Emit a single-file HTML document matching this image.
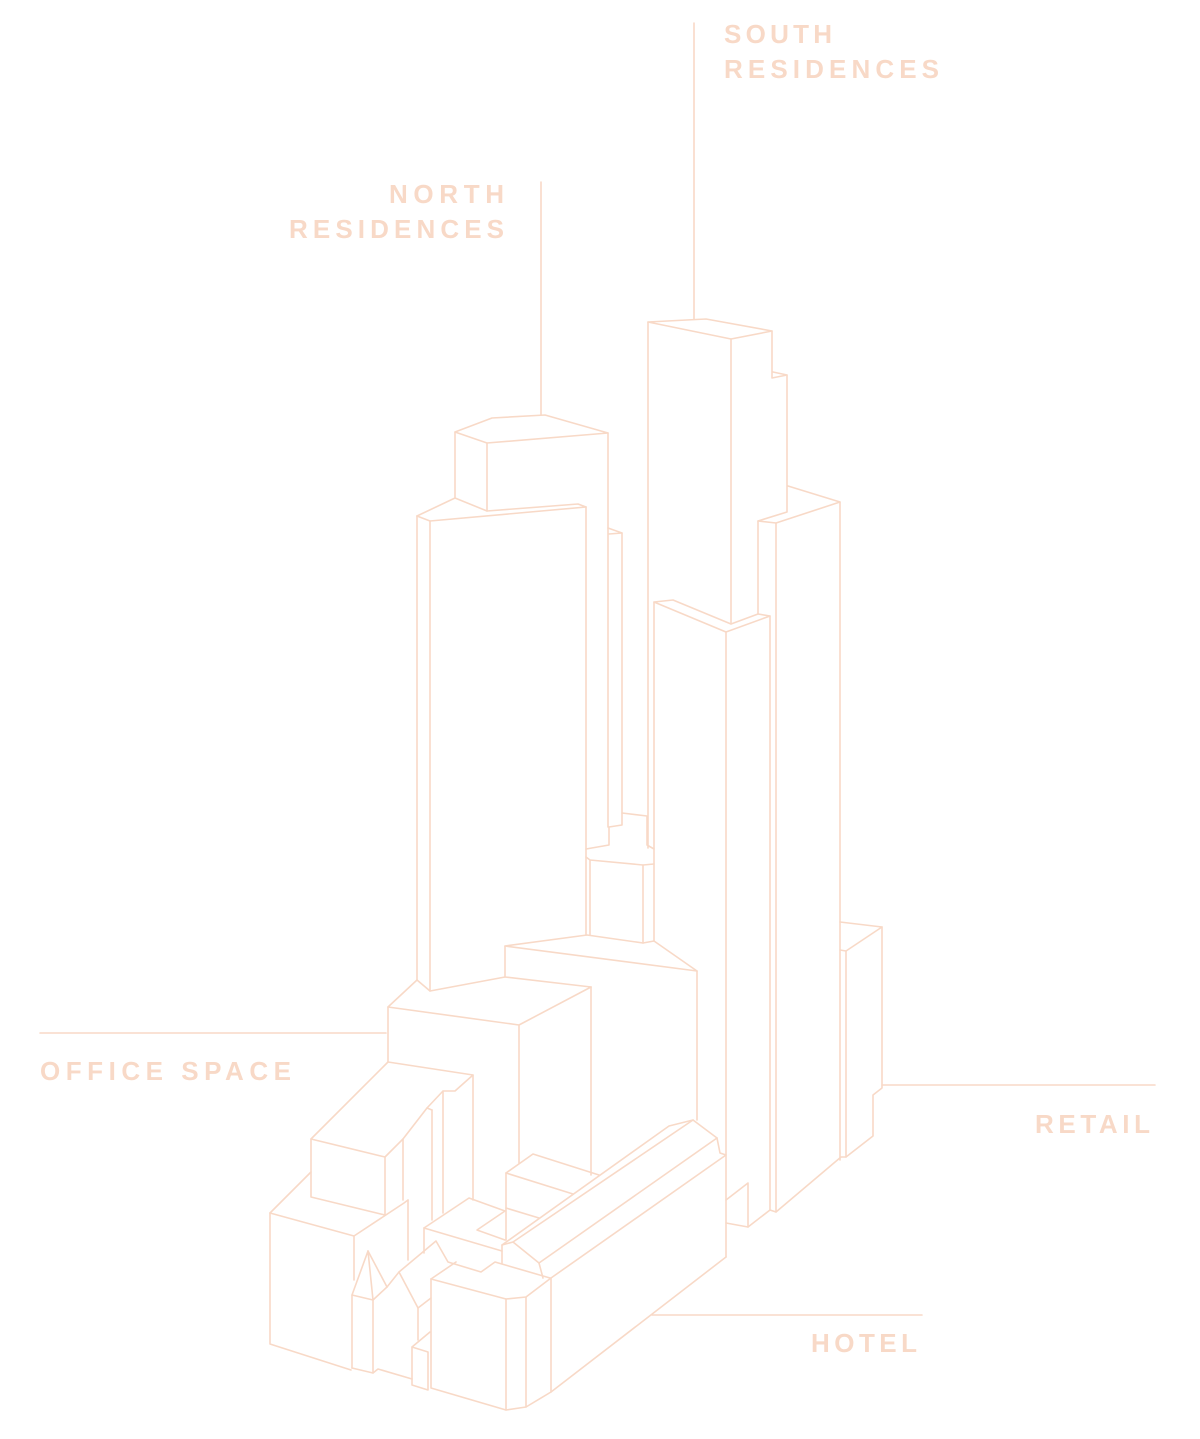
<!DOCTYPE html>
<html><head><meta charset="utf-8"><style>
html,body{margin:0;padding:0;background:#fff;}
svg{display:block;}
text{font-family:"Liberation Sans",sans-serif;font-weight:bold;font-size:26px;fill:#f8d9c7;}
</style></head><body>
<svg width="1200" height="1439" viewBox="0 0 1200 1439" xmlns="http://www.w3.org/2000/svg">
<g fill="none" stroke="#f8d9c7" stroke-width="1.6" stroke-linejoin="round" stroke-linecap="round">
<line x1="694" y1="23" x2="694" y2="319"/>
<line x1="541" y1="182" x2="541" y2="415"/>
<line x1="40" y1="1033" x2="386" y2="1033"/>
<line x1="882" y1="1085" x2="1155" y2="1085"/>
<line x1="652" y1="1315" x2="922" y2="1315"/>

<polygon points="648,322 706,319 772,331 731,339"/>
<line x1="648" y1="322" x2="648" y2="848"/>
<line x1="731" y1="339" x2="731" y2="624"/>
<polyline points="772,331 772,378 787,375 773,372"/>
<polyline points="787,375 787,512 758,521 776,523 840,502 788,486"/>
<line x1="840" y1="502" x2="840" y2="1160"/>
<line x1="776" y1="523" x2="776" y2="1212"/>
<line x1="758" y1="521" x2="758" y2="614"/>

<polygon points="654,602 673,600 731,624 758,614 770,616 726,632"/>
<line x1="654" y1="602" x2="654" y2="941"/>
<line x1="726" y1="632" x2="726" y2="1257"/>
<line x1="770" y1="616" x2="770" y2="1210"/>
<polyline points="726,1200 748,1183 748,1227 726,1223"/>
<polyline points="748,1227 770,1210 776,1212 841,1157 846,1157 873,1136 873,1095 882,1088 882,927 840,922"/>
<polyline points="882,927 846,951 840,950"/>
<line x1="846" y1="951" x2="846" y2="1157"/>

<polygon points="455,432 492,418 545,415 608,433 487,443"/>
<line x1="455" y1="432" x2="455" y2="498"/>
<line x1="487" y1="443" x2="487" y2="511"/>
<line x1="608" y1="433" x2="608" y2="827"/>
<polyline points="417,516 455,498 487,511 578,504 586,507"/>
<polyline points="417,516 430,521 586,507"/>
<line x1="417" y1="516" x2="417" y2="980"/>
<line x1="430" y1="521" x2="430" y2="991"/>
<line x1="586" y1="507" x2="586" y2="935"/>
<polyline points="608,528 622,533 609,534"/>
<line x1="622" y1="533" x2="622" y2="813"/>
<polyline points="609,827 622,825 622,813 647,816 647,845 654,849"/>
<polyline points="586,849 609,845 609,827"/>
<polyline points="586,857 590,860 643,865 654,864"/>
<line x1="590" y1="860" x2="590" y2="935"/>
<line x1="643" y1="865" x2="643" y2="943"/>
<polyline points="587,935 643,943 654,941 697,971 505,946 587,935"/>
<line x1="697" y1="971" x2="697" y2="1120"/>
<polyline points="505,946 505,977 591,987"/>
<line x1="591" y1="987" x2="591" y2="1175"/>
<polyline points="417,980 430,991 505,977"/>
<polyline points="417,980 388,1007 519,1025 591,987"/>
<line x1="519" y1="1025" x2="519" y2="1163"/>
<line x1="388" y1="1007" x2="388" y2="1062"/>

<polyline points="311,1139 388,1062 473,1075 455,1091 443,1091 427,1108 432,1110"/>
<line x1="473" y1="1075" x2="473" y2="1200"/>
<line x1="443" y1="1091" x2="443" y2="1213"/>
<line x1="432" y1="1110" x2="432" y2="1220"/>
<polyline points="385,1157 403,1139 427,1108"/>
<line x1="403" y1="1139" x2="403" y2="1200"/>
<polygon points="311,1139 385,1157 385,1215 311,1197"/>
<line x1="311" y1="1172" x2="270" y2="1213"/>
<polyline points="270,1213 354,1236 404,1203 408,1200"/>
<line x1="408" y1="1200" x2="408" y2="1260"/>
<polyline points="270,1213 270,1344 351,1370"/>
<line x1="354" y1="1236" x2="354" y2="1280"/>

<polyline points="352,1295 368,1251 373,1300 352,1295"/>
<line x1="368" y1="1251" x2="387" y2="1287"/>
<line x1="352" y1="1295" x2="352" y2="1368"/>
<line x1="373" y1="1300" x2="373" y2="1373"/>
<polyline points="352,1368 373,1373 378,1369 412,1379"/>
<polyline points="373,1300 387,1287 399,1272 436,1241 448,1262 481,1272 495,1262 550,1278"/>
<polyline points="399,1272 418,1308 431,1298"/>
<line x1="418" y1="1308" x2="418" y2="1340"/>
<polyline points="412,1347 430,1332"/>
<polygon points="412,1347 428,1352 428,1390 412,1385"/>

<polyline points="431,1279 456,1262"/>
<polyline points="431,1279 506,1299 526,1297 551,1278"/>
<polyline points="431,1279 431,1388 506,1410 526,1407 551,1392 726,1257"/>
<line x1="506" y1="1299" x2="506" y2="1410"/>
<line x1="526" y1="1297" x2="526" y2="1407"/>
<line x1="551" y1="1278" x2="551" y2="1392"/>
<polyline points="502,1263 502,1245 513,1242 539,1263 543,1278"/>
<polyline points="539,1263 717,1138 720,1153 726,1155 551,1278"/>
<polyline points="717,1138 693,1120 669,1126 502,1245"/>
<line x1="693" y1="1120" x2="513" y2="1242"/>

<polyline points="424,1253 424,1228 469,1198 505,1211"/>
<line x1="424" y1="1228" x2="502" y2="1251"/>
<polyline points="505,1211 477,1230 505,1240"/>
<polyline points="506,1240 506,1173 533,1154 599,1175"/>
<line x1="506" y1="1173" x2="573" y2="1194"/>
<line x1="506" y1="1208" x2="539" y2="1218"/>
</g>

<text x="724" y="43" textLength="108" lengthAdjust="spacing">SOUTH</text>
<text x="724" y="78" textLength="215" lengthAdjust="spacing">RESIDENCES</text>
<text x="389" y="203" textLength="115" lengthAdjust="spacing">NORTH</text>
<text x="289" y="238" textLength="215" lengthAdjust="spacing">RESIDENCES</text>
<text x="40" y="1080" textLength="251" lengthAdjust="spacing">OFFICE SPACE</text>
<text x="1035" y="1133" textLength="115" lengthAdjust="spacing">RETAIL</text>
<text x="811" y="1352" textLength="106" lengthAdjust="spacing">HOTEL</text>
</svg>
</body></html>
